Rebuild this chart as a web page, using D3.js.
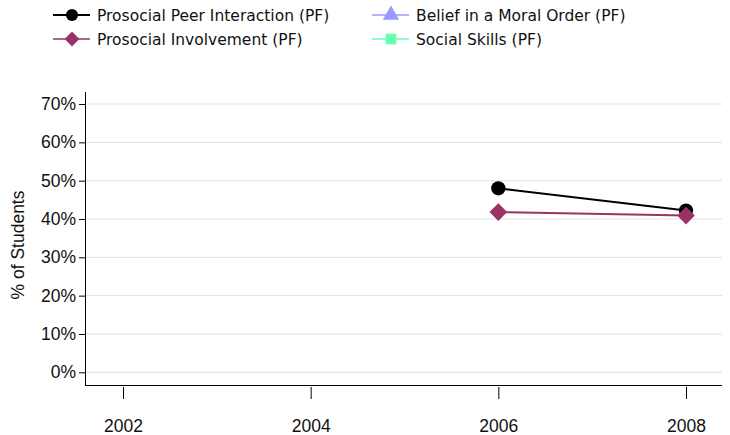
<!DOCTYPE html>
<html>
<head>
<meta charset="utf-8">
<script src="https://cdn.jsdelivr.net/npm/d3@7"></script>
<style>
  html, body { margin: 0; padding: 0; background: #fff; }
  svg { display: block; }
</style>
</head>
<body>
<svg id="chart" width="730" height="435"></svg>
<script>
// Survey years shown on the x axis
const years = [2002, 2004, 2006, 2008];
// Percent ticks on the y axis
const yTicks = [0, 10, 20, 30, 40, 50, 60, 70];

// Series (protective factors), values in % of students
const seriesNames = [
  "Prosocial Peer Interaction (PF)",
  "Prosocial Involvement (PF)",
  "Belief in a Moral Order (PF)",
  "Social Skills (PF)"
];
const peerInteraction = [null, null, 48.0, 42.2];
const involvement = [null, null, 41.8, 40.9];
const moralOrder = [null, null, null, null];
const socialSkills = [null, null, null, null];

const seriesColors = ["#000000", "#993366", "#9999ff", "#66ffb3"];
const seriesSymbols = [d3.symbolCircle, d3.symbolDiamond2, d3.symbolTriangle, d3.symbolSquare];
const seriesValues = [peerInteraction, involvement, moralOrder, socialSkills];

const axisFont = "Liberation Sans, Arial, sans-serif";
const legendFont = "DejaVu Sans, Verdana, sans-serif";

const svg = d3.select("#chart");

const plot = { left: 85, right: 722, top: 92, bottom: 385 };

const x = d3.scaleLinear().domain([2002, 2008]).range([123, 686]);
const y = d3.scaleLinear().domain([0, 70]).range([372.3, 104]);

// Horizontal gridlines
svg.append("g")
  .selectAll("line")
  .data(yTicks)
  .join("line")
  .attr("x1", plot.left)
  .attr("x2", plot.right)
  .attr("y1", d => y(d))
  .attr("y2", d => y(d))
  .attr("stroke", "#e0e0e0")
  .attr("stroke-width", 1);

// Y axis
const yAxis = d3.axisLeft(y)
  .tickValues(yTicks)
  .tickFormat(d => d + "%")
  .tickSize(6)
  .tickPadding(3);
const gy = svg.append("g")
  .attr("transform", `translate(${plot.left},0)`)
  .call(yAxis);
gy.select(".domain").remove();
gy.selectAll(".tick line").attr("stroke", "#000");
gy.selectAll(".tick text")
  .attr("font-family", axisFont)
  .attr("font-size", 17.5)
  .attr("fill", "#111");
svg.append("line")
  .attr("x1", plot.left + 0.5).attr("x2", plot.left + 0.5)
  .attr("y1", plot.top).attr("y2", plot.bottom)
  .attr("stroke", "#000").attr("stroke-width", 1);

// X axis
const xAxis = d3.axisBottom(x)
  .tickValues(years)
  .tickFormat(d3.format("d"))
  .tickSize(12)
  .tickPadding(21);
const gx = svg.append("g")
  .attr("transform", `translate(0,${plot.bottom + 2})`)
  .call(xAxis);
gx.select(".domain").remove();
gx.selectAll(".tick line").attr("stroke", "#000");
gx.selectAll(".tick text")
  .attr("font-family", axisFont)
  .attr("font-size", 17.5)
  .attr("fill", "#111");
svg.append("line")
  .attr("x1", plot.left).attr("x2", plot.right)
  .attr("y1", plot.bottom + 0.5).attr("y2", plot.bottom + 0.5)
  .attr("stroke", "#000").attr("stroke-width", 1);

// Y axis title
svg.append("text")
  .attr("transform", `translate(24,245) rotate(-90)`)
  .attr("text-anchor", "middle")
  .attr("font-family", axisFont)
  .attr("font-size", 17.5)
  .attr("fill", "#111")
  .text("% of Students");

// Series lines and markers
const line = d3.line()
  .defined(d => d.v != null)
  .x(d => x(d.year))
  .y(d => y(d.v));

seriesValues.forEach((vals, i) => {
  const pts = years.map((yr, j) => ({ year: yr, v: vals[j] }));
  const g = svg.append("g");
  g.append("path")
    .datum(pts)
    .attr("d", line)
    .attr("fill", "none")
    .attr("stroke", seriesColors[i])
    .attr("stroke-width", 2);
  const sym = d3.symbol().type(seriesSymbols[i]).size(i === 1 ? 200 : 160);
  g.selectAll("path.pt")
    .data(pts.filter(d => d.v != null))
    .join("path")
    .attr("class", "pt")
    .attr("transform", d => `translate(${x(d.year)},${y(d.v)})`)
    .attr("d", sym)
    .attr("fill", seriesColors[i]);
});

// Legend: two columns, two rows
const legendPos = [
  { lx: 53, ly: 15 }, { lx: 53, ly: 39 },
  { lx: 372, ly: 15 }, { lx: 372, ly: 39 }
];
seriesNames.forEach((name, i) => {
  const p = legendPos[i];
  const g = svg.append("g").attr("transform", `translate(${p.lx},${p.ly})`);
  g.append("line")
    .attr("x1", 0).attr("x2", 37)
    .attr("y1", 0).attr("y2", 0)
    .attr("stroke", seriesColors[i])
    .attr("stroke-width", i === 0 ? 2 : 1.5);
  g.append("path")
    .attr("transform", "translate(19,0)")
    .attr("d", d3.symbol().type(seriesSymbols[i]).size(i === 1 ? 140 : 115))
    .attr("fill", seriesColors[i]);
  g.append("text")
    .attr("x", i < 2 ? 44 : 44)
    .attr("y", 5.5)
    .attr("font-family", legendFont)
    .attr("font-size", 15.5)
    .attr("fill", "#111")
    .text(name);
});
</script>
</body>
</html>
